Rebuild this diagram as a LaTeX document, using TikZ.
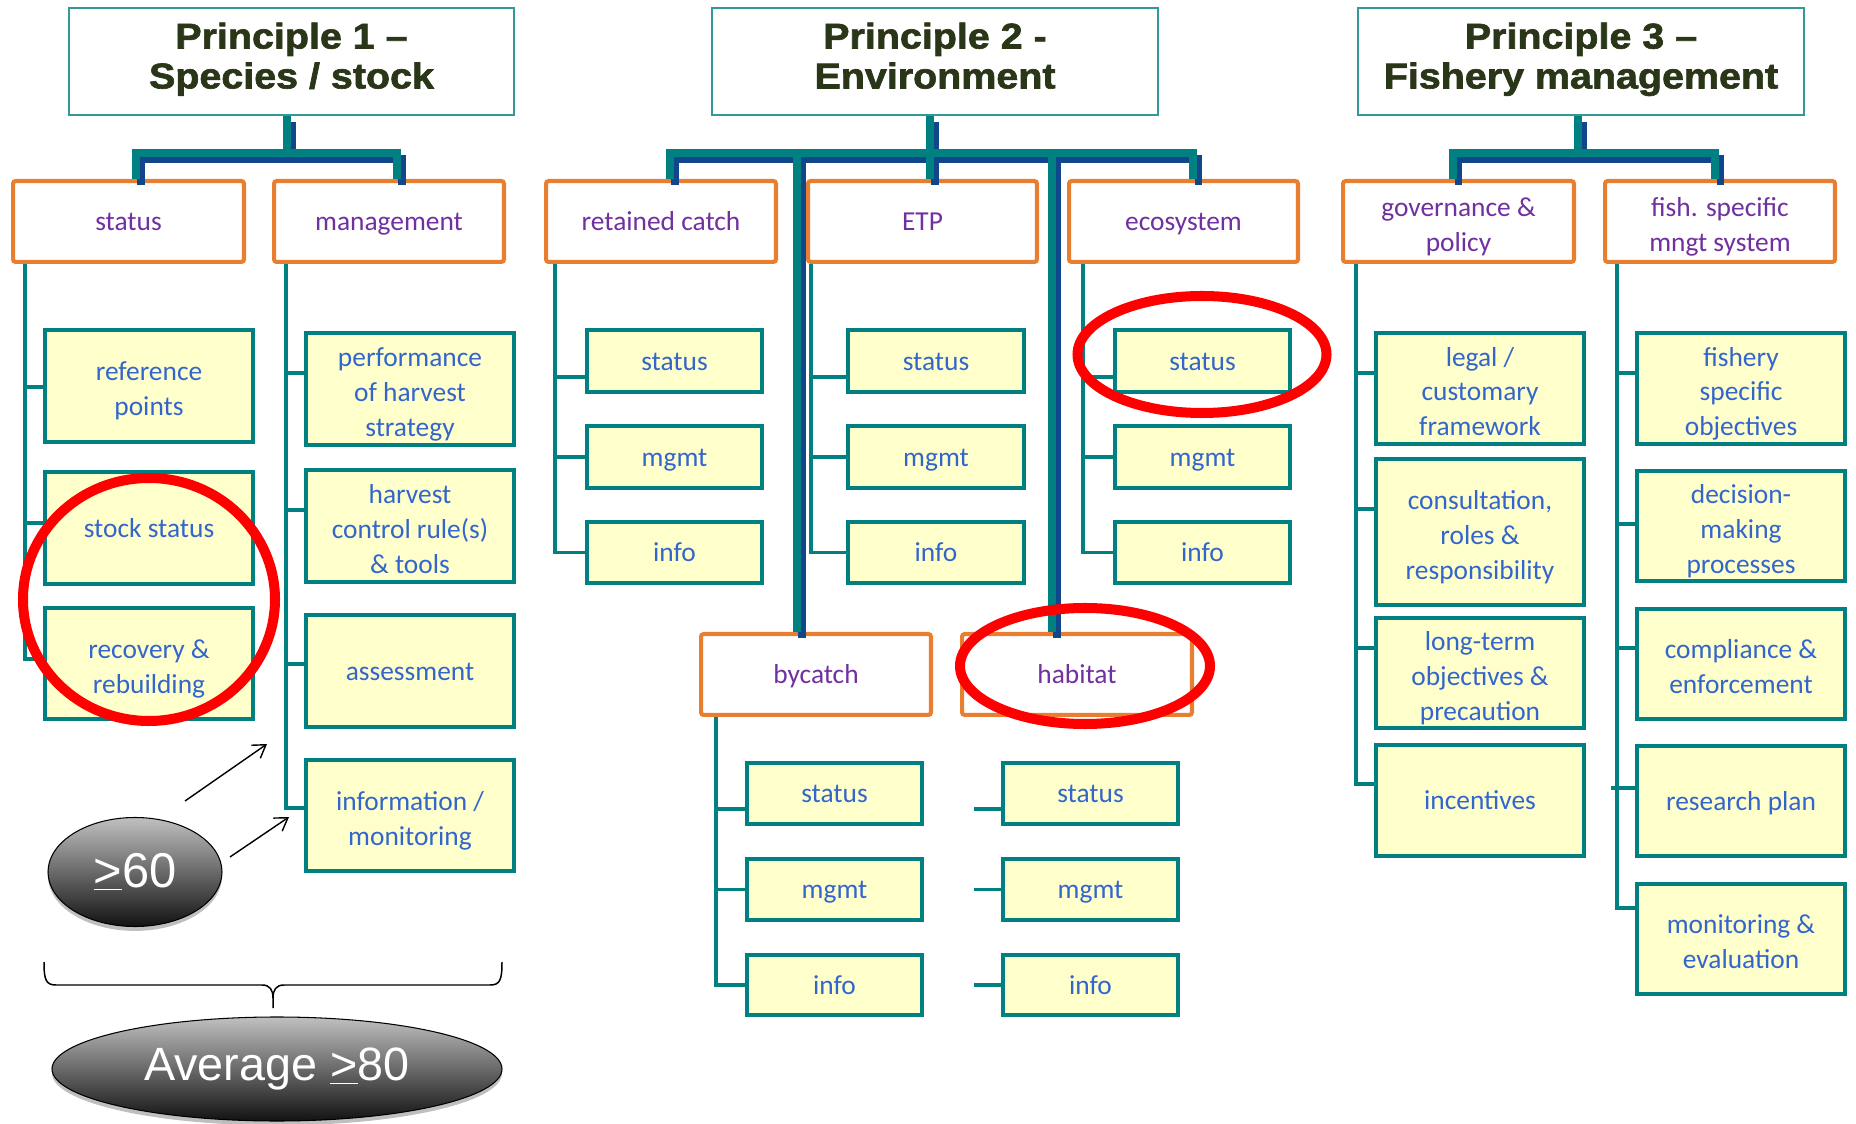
\documentclass[tikz,border=0pt]{standalone}
\usepackage{fontspec}
\setmainfont{Carlito}
\newfontfamily\ttlfont[FakeStretch=1.1,BoldFeatures={FakeStretch=1.1,FakeBold=1.8}]{Liberation Sans}
\newfontfamily\arialfont{Liberation Sans}
\usetikzlibrary{arrows.meta,shadows,shapes.geometric}
\definecolor{teal1}{RGB}{0,128,128}
\definecolor{navy1}{RGB}{16,70,140}
\definecolor{orng}{RGB}{232,126,48}
\definecolor{purp}{RGB}{112,48,160}
\definecolor{bluet}{RGB}{51,102,204}
\definecolor{yel}{RGB}{255,255,204}
\definecolor{ttl}{RGB}{42,54,24}
\definecolor{tbord}{RGB}{52,152,152}
\newcommand\bstrut{\rule[-4.5pt]{0pt}{19.8pt}}
\newcommand\mstrut{\rule{0pt}{18.6pt}}
\tikzset{
 ttlbox/.style={draw=tbord, line width=0.9pt, fill=white, inner sep=0pt, align=center, text=ttl, font=\ttlfont\bfseries\fontsize{20.4}{22.7}\selectfont, execute at begin node=\strut, execute at end node=\strut},
 obox/.style={draw=orng, line width=2.3pt, rounded corners=1.5pt, fill=white, inner sep=0pt, align=center, text=purp, font=\fontsize{15.6}{19.8}\selectfont, execute at begin node=\bstrut, execute at end node=\bstrut},
 ybox/.style={draw=teal1, line width=2.3pt, fill=yel, inner sep=0pt, align=center, text=bluet, font=\fontsize{15.6}{19.8}\selectfont, execute at begin node=\bstrut, execute at end node=\bstrut},
 cline/.style={draw=teal1, line width=2pt},
 tline/.style={draw=teal1, line width=4.5pt},
 nline/.style={draw=navy1, line width=4pt, transform canvas={xshift=0.1cm, yshift=-0.12cm}},
 redring/.style={draw=red, line width=5.7pt},
 gell/.style={ellipse, draw=black, line width=0.6pt, inner sep=0pt,
   top color={rgb,255:red,192;green,192;blue,192}, bottom color={rgb,255:red,18;green,18;blue,18},
   text=white, drop shadow={shadow xshift=0pt, shadow yshift=-2.5pt, opacity=0.25, fill=black}},
 arr/.style={-{Straight Barb[length=7pt,width=9pt]}, line width=0.8pt, draw=black},
 brace/.style={draw=black, line width=0.85pt},
}
\newcommand\mkbox[7]{\node[#6, minimum width={(#4-#2)*0.02cm-2.3pt}, minimum height={(#5-#3)*0.02cm-2.3pt}] (#1) at ({(#2+#4)/2},{(#3+#5)/2}) {#7};}
\begin{document}
\begin{tikzpicture}[x=0.02cm,y=-0.02cm]
\useasboundingbox (0,0) rectangle (1856,1124);
% titles
\mkbox{p1}{67}{6}{516}{117}{ttlbox}{Principle 1 –\\Species / stock}
\mkbox{p2}{710}{6}{1160}{117}{ttlbox}{Principle 2 -\\Environment}
\mkbox{p3}{1356}{6}{1806}{117}{ttlbox}{Principle 3 –\\Fishery management}
% orange boxes
\mkbox{st}{11}{179}{246}{264}{obox}{status}
\mkbox{mg}{272}{179}{506}{264}{obox}{management}
\mkbox{rc}{544}{179}{778}{264}{obox}{retained catch}
\mkbox{etp}{806}{179}{1039}{264}{obox}{ETP}
\mkbox{eco}{1067}{179}{1300}{264}{obox}{ecosystem}
\mkbox{gov}{1341}{179}{1576}{264}{obox}{\mstrut governance \&\\policy}
\mkbox{fss}{1603}{179}{1837}{264}{obox}{\mstrut fish. specific\\mngt system}
\mkbox{by}{699}{632}{933}{717}{obox}{bycatch}
\mkbox{hab}{960}{632}{1194}{717}{obox}{habitat}
% P1 children
\mkbox{rp}{43}{328}{255}{444}{ybox}{\mstrut reference\\points}
\mkbox{ss}{43}{470}{255}{586}{ybox}{stock status}
\mkbox{rr}{43}{606}{255}{721}{ybox}{\mstrut recovery \&\\rebuilding}
\mkbox{phs}{304}{331}{516}{447}{ybox}{\mstrut performance\\of harvest\\strategy}
\mkbox{hcr}{304}{468}{516}{584}{ybox}{\mstrut harvest\\control rule(s)\\\& tools}
\mkbox{ass}{304}{613}{516}{729}{ybox}{assessment}
\mkbox{inf}{304}{758}{516}{873}{ybox}{\mstrut information /\\monitoring}
% P2 children
\mkbox{rcs}{585}{328}{764}{394}{ybox}{status}
\mkbox{rcm}{585}{424}{764}{490}{ybox}{mgmt}
\mkbox{rci}{585}{520}{764}{585}{ybox}{info}
\mkbox{etps}{846}{328}{1026}{394}{ybox}{status}
\mkbox{etpm}{846}{424}{1026}{490}{ybox}{mgmt}
\mkbox{etpi}{846}{520}{1026}{585}{ybox}{info}
\mkbox{ecos}{1113}{328}{1292}{394}{ybox}{status}
\mkbox{ecom}{1113}{424}{1292}{490}{ybox}{mgmt}
\mkbox{ecoi}{1113}{520}{1292}{585}{ybox}{info}
\mkbox{bys}{745}{761}{924}{826}{ybox}{status}
\mkbox{bym}{745}{857}{924}{922}{ybox}{mgmt}
\mkbox{byi}{745}{953}{924}{1017}{ybox}{info}
\mkbox{habs}{1001}{761}{1180}{826}{ybox}{status}
\mkbox{habm}{1001}{857}{1180}{922}{ybox}{mgmt}
\mkbox{habi}{1001}{953}{1180}{1017}{ybox}{info}
% P3 children
\mkbox{leg}{1374}{331}{1586}{446}{ybox}{\mstrut legal /\\customary\\framework}
\mkbox{con}{1374}{457}{1586}{607}{ybox}{\mstrut consultation,\\roles \&\\responsibility}
\mkbox{lto}{1374}{616}{1586}{730}{ybox}{\mstrut long-term\\objectives \&\\precaution}
\mkbox{inc}{1374}{743}{1586}{858}{ybox}{incentives}
\mkbox{fso}{1635}{331}{1847}{446}{ybox}{\mstrut fishery\\specific\\objectives}
\mkbox{dmp}{1635}{469}{1847}{583}{ybox}{\mstrut decision-\\making\\processes}
\mkbox{ce}{1635}{607}{1847}{721}{ybox}{\mstrut compliance \&\\enforcement}
\mkbox{rpl}{1635}{744}{1847}{858}{ybox}{research plan}
\mkbox{me}{1635}{882}{1847}{996}{ybox}{\mstrut monitoring \&\\evaluation}
% child lines
\draw[cline] (st.south -| 25,0) |- (rp.west |- 0,387);
\draw[cline] (st.south -| 25,0) |- (ss.west |- 0,523);
\draw[cline] (st.south -| 25,0) |- (rr.west |- 0,659);
\draw[cline] (mg.south -| 286,0) |- (phs.west |- 0,373);
\draw[cline] (mg.south -| 286,0) |- (hcr.west |- 0,510);
\draw[cline] (mg.south -| 286,0) |- (ass.west |- 0,664);
\draw[cline] (mg.south -| 286,0) |- (inf.west |- 0,808);
\foreach \pn/\a/\b/\c/\xx in {rc/rcs/rcm/rci/555, etp/etps/etpm/etpi/811, eco/ecos/ecom/ecoi/1083}{
  \draw[cline] (\pn.south -| \xx,0) |- (\a.west |- 0,377);
  \draw[cline] (\pn.south -| \xx,0) |- (\b.west);
  \draw[cline] (\pn.south -| \xx,0) |- (\c.west);
}
\draw[cline] (by.south -| 716,0) |- (bys.west |- 0,809);
\draw[cline] (by.south -| 716,0) |- (bym.west);
\draw[cline] (by.south -| 716,0) |- (byi.west);
\draw[cline] (habs.west |- 0,809) -- (974,809);
\draw[cline] (habm.west) -- ++(-27,0);
\draw[cline] (habi.west) -- ++(-27,0);
\draw[cline] (gov.south -| 1356,0) |- (leg.west |- 0,373);
\draw[cline] (gov.south -| 1356,0) |- (con.west |- 0,509);
\draw[cline] (gov.south -| 1356,0) |- (lto.west |- 0,648);
\draw[cline] (gov.south -| 1356,0) |- (inc.west |- 0,784);
\draw[cline] (fss.south -| 1617,0) |- (fso.west |- 0,373);
\draw[cline] (fss.south -| 1617,0) |- (dmp.west |- 0,524);
\draw[cline] (fss.south -| 1617,0) |- (ce.west |- 0,648);
\draw[cline] (fss.south -| 1617,0) |- (me.west |- 0,908);
\draw[cline] (rpl.west |- 0,788) -- (1611,788);
% thick connectors
\coordinate (j1) at (287,153);
\coordinate (j2) at (930,153);
\coordinate (j3) at (1578,153);
\foreach \s in {nline,tline}{
  \draw[\s] (p1.south -| j1) -- (j1);
  \draw[\s] (st.north -| 136,0) |- (j1) -| (mg.north -| 397,0);
  \draw[\s] (p2.south -| j2) -- (j2);
  \draw[\s] (rc.north -| 670,0) |- (j2) -| (eco.north -| 1193,0);
  \draw[\s] (etp.north -| j2) -- (j2);
  \draw[\s] (by.north -| 797,0) -- (j2 -| 797,0);
  \draw[\s] (hab.north -| 1052,0) -- (j2 -| 1052,0);
  \draw[\s] (p3.south -| j3) -- (j3);
  \draw[\s] (gov.north -| 1453,0) |- (j3) -| (fss.north -| 1715,0);
}
% grey ellipses
\node[gell, minimum width=174*0.02cm, minimum height=109*0.02cm, font=\arialfont\fontsize{27.8}{30}\selectfont] (g60) at (135,872) {\underline{>}60};
\node[gell, minimum width=450*0.02cm, minimum height=104*0.02cm, font=\arialfont\fontsize{26.6}{30}\selectfont] (avg) at (277,1069) {Average \underline{>}80};
% arrows
\coordinate (a1s) at (185,801);
\coordinate (a1e) at (267,744);
\coordinate (a2s) at (230,857);
\coordinate (a2e) at (289,817);
\draw[arr] (a1s) -- (a1e);
\draw[arr] (a2s) -- (a2e);
% brace
\draw[brace] (44,962) .. controls (44,980) and (46,985) .. (56,985) -- (262,985) .. controls (270,985) and (273,990) .. (273,998) -- (273,1008);
\draw[brace] (502,962) .. controls (502,980) and (500,985) .. (490,985) -- (284,985) .. controls (276,985) and (273,990) .. (273,998);
% red rings
\draw[redring] (149,599.5) ellipse [x radius=126, y radius=121.5];
\draw[redring] (1202,354.5) ellipse [x radius=124.5, y radius=58.5];
\draw[redring] (1085,666) ellipse [x radius=125, y radius=58];
\end{tikzpicture}
\end{document}
